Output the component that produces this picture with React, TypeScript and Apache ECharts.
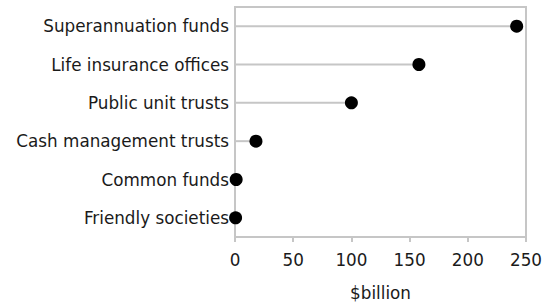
import React, { useEffect, useRef } from "react";
import * as echarts from "echarts";

const categories = [
  "Superannuation funds",
  "Life insurance offices",
  "Public unit trusts",
  "Cash management trusts",
  "Common funds",
  "Friendly societies",
];
const values = [242, 158, 100, 18, 1, 0.5];
const xTicks = { min: 0, max: 250, interval: 50 };
const xName = "$billion";

const FONT = "'DejaVu Sans', 'Open Sans', sans-serif";
const GREY = "#c6c6c6";
const TEXT = "#1a1a1a";
const FS = 16.8;

export default function App() {
  const ref = useRef<HTMLDivElement>(null);
  useEffect(() => {
    if (!ref.current) return;
    const chart = echarts.init(ref.current, undefined, { renderer: "svg" });
    chart.setOption({
      animation: false,
      backgroundColor: "#ffffff",
      grid: {
        left: 235,
        right: 18,
        top: 7,
        bottom: 68,
        show: true,
        borderColor: GREY,
        borderWidth: 2,
        containLabel: false,
        outerBoundsMode: "none",
      },
      xAxis: {
        type: "value",
        min: xTicks.min,
        max: xTicks.max,
        interval: xTicks.interval,
        name: xName,
        nameLocation: "middle",
        nameGap: 47,
        nameTextStyle: { fontFamily: FONT, fontSize: FS, color: TEXT },
        axisLine: { show: true, lineStyle: { color: GREY, width: 2 } },
        axisTick: { show: true, length: 5, lineStyle: { color: GREY, width: 2 } },
        axisLabel: { fontFamily: FONT, fontSize: FS, color: TEXT, margin: 14 },
        splitLine: { show: false },
      },
      yAxis: {
        type: "category",
        data: categories,
        inverse: true,
        axisLine: { show: true, lineStyle: { color: GREY, width: 2 } },
        axisTick: { show: false },
        axisLabel: { fontFamily: FONT, fontSize: FS, color: TEXT, margin: 6 },
        splitLine: { show: false },
      },
      series: [
        {
          type: "bar",
          data: values,
          barWidth: 2,
          itemStyle: { color: GREY },
          silent: true,
          z: 1,
        },
        {
          type: "scatter",
          data: values,
          symbol: "circle",
          symbolSize: 13,
          itemStyle: { color: "#000000", opacity: 1 },
          z: 3,
        },
      ],
    });
    return () => chart.dispose();
  }, []);
  return <div ref={ref} style={{ width: 544, height: 305, position: "absolute", left: 0, top: 0 }} />;
}
